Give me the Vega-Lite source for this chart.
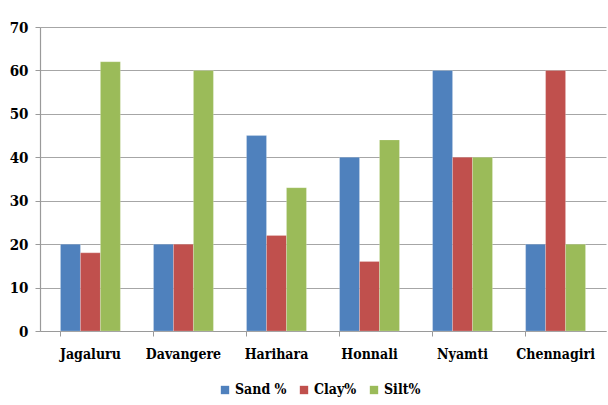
{
  "$schema": "https://vega.github.io/schema/vega-lite/v6.json",
  "autosize": {"type": "none"},
  "width": 566,
  "height": 304,
  "padding": {"left": 40, "top": 27, "right": 2, "bottom": 74},
  "background": "white",
  "data": {"values": [
    {"Location": "Jagaluru", "Fraction": "Sand %", "Value": 20},
    {"Location": "Jagaluru", "Fraction": "Clay%", "Value": 18},
    {"Location": "Jagaluru", "Fraction": "Silt%", "Value": 62},
    {"Location": "Davangere", "Fraction": "Sand %", "Value": 20},
    {"Location": "Davangere", "Fraction": "Clay%", "Value": 20},
    {"Location": "Davangere", "Fraction": "Silt%", "Value": 60},
    {"Location": "Harihara", "Fraction": "Sand %", "Value": 45},
    {"Location": "Harihara", "Fraction": "Clay%", "Value": 22},
    {"Location": "Harihara", "Fraction": "Silt%", "Value": 33},
    {"Location": "Honnali", "Fraction": "Sand %", "Value": 40},
    {"Location": "Honnali", "Fraction": "Clay%", "Value": 16},
    {"Location": "Honnali", "Fraction": "Silt%", "Value": 44},
    {"Location": "Nyamti", "Fraction": "Sand %", "Value": 60},
    {"Location": "Nyamti", "Fraction": "Clay%", "Value": 40},
    {"Location": "Nyamti", "Fraction": "Silt%", "Value": 40},
    {"Location": "Chennagiri", "Fraction": "Sand %", "Value": 20},
    {"Location": "Chennagiri", "Fraction": "Clay%", "Value": 60},
    {"Location": "Chennagiri", "Fraction": "Silt%", "Value": 20}
  ]},
  "mark": {"type": "bar", "stroke": "#ffffff", "strokeOpacity": 0.35, "strokeWidth": 0.6},
  "encoding": {
    "x": {
      "field": "Location", "type": "nominal", "sort": null, "title": null,
      "scale": {"paddingInner": 0.356, "paddingOuter": 0.22},
      "axis": {
        "labelAngle": 0, "labelFont": "DejaVu Serif Condensed", "labelFontWeight": "bold",
        "labelFontSize": 14, "labelColor": "#000000", "labelPadding": 11,
        "domainColor": "#9a9a9a", "domainWidth": 1.2,
        "tickColor": "#9a9a9a", "tickSize": 5, "bandPosition": 0, "grid": false
      }
    },
    "xOffset": {"field": "Fraction", "type": "nominal", "sort": ["Sand %", "Clay%", "Silt%"]},
    "y": {
      "field": "Value", "type": "quantitative", "title": null,
      "scale": {"domain": [0, 70], "nice": false},
      "axis": {
        "values": [0, 10, 20, 30, 40, 50, 60, 70],
        "labelFont": "DejaVu Serif Condensed", "labelFontWeight": "bold",
        "labelFontSize": 15, "labelColor": "#000000", "labelPadding": 7,
        "domainColor": "#9a9a9a", "domainWidth": 1.2,
        "tickColor": "#9a9a9a", "tickSize": 5,
        "gridColor": "#a6a6a6", "gridWidth": 1.2
      }
    },
    "color": {
      "field": "Fraction", "type": "nominal", "sort": ["Sand %", "Clay%", "Silt%"],
      "scale": {"domain": ["Sand %", "Clay%", "Silt%"], "range": ["#4F81BD", "#C0504D", "#9BBB59"]},
      "legend": {
        "title": null, "orient": "none", "direction": "horizontal",
        "legendX": 178, "legendY": 356,
        "symbolType": "square", "symbolSize": 70, "symbolStrokeWidth": 0,
        "labelFont": "DejaVu Serif Condensed", "labelFontWeight": "bold", "labelFontSize": 14,
        "labelColor": "#000000", "columnPadding": 10, "labelOffset": 3
      }
    }
  },
  "config": {"view": {"stroke": null}, "legend": {"labelFont": "DejaVu Serif Condensed"}}
}
